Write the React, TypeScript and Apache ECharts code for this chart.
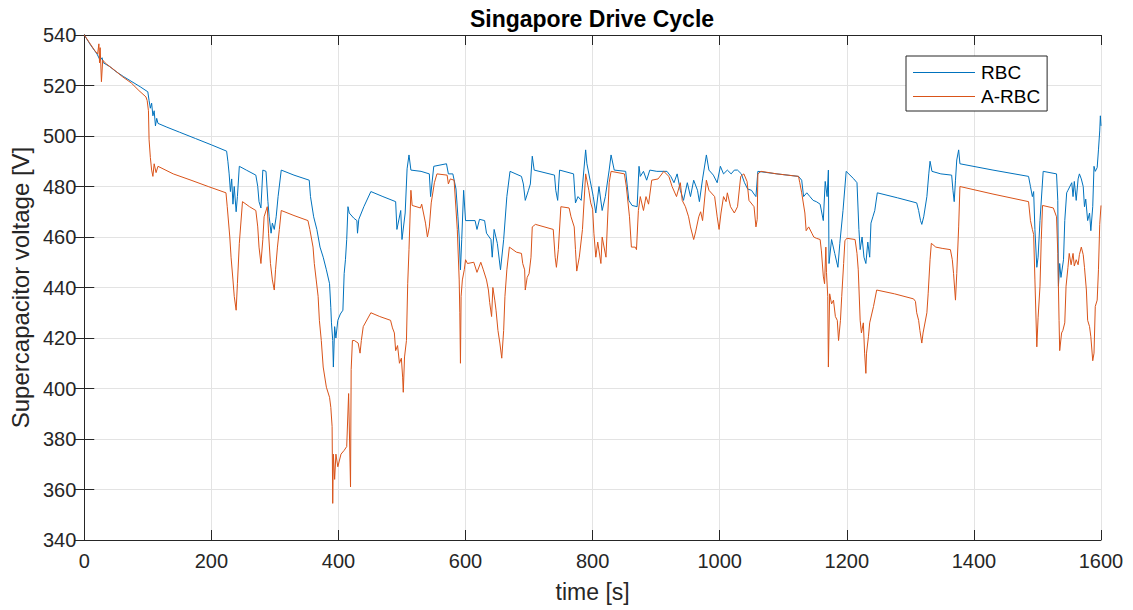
import React, { useEffect, useRef } from "react";
import * as echarts from "echarts";

const titleText = "Singapore Drive Cycle";
const xName = "time [s]";
const yName = "Supercapacitor voltage [V]";
const seriesNames = ["RBC", "A-RBC"];
const seriesColors = ["#0072BD", "#D95319"];
const xTicks = { min: 0, max: 1600, interval: 200 };
const yTicks = { min: 340, max: 540, interval: 20 };

// [time s, voltage V]
const rbc: [number, number][] = [
  [0, 540], [10, 536], [20, 532.5], [25, 530], [28, 531], [30, 529], [40, 527.5], [50, 525.5], [62, 523.5], [75, 521.5],
  [88, 519.5], [100, 517.5], [102, 514], [104, 511], [106, 513], [108, 508], [110, 510], [112, 504], [114, 507], [116, 505],
  [130, 503.5], [150, 501.5], [175, 499], [200, 496.5], [224, 494], [226, 490], [228, 485], [230, 478], [232, 483], [234, 473],
  [236, 480], [239, 470], [241, 476], [244, 488], [255, 486.5], [270, 484.5], [273, 480], [275, 474], [278, 471.5], [281, 486.5],
  [286, 486], [289, 474], [291, 468], [294, 461.5], [296, 465.5], [299, 463], [302, 468], [305, 476], [310, 486.5], [330, 484.5],
  [354, 482.5], [356, 476], [361, 468], [366, 463], [371, 456], [376, 452], [381, 447], [386, 441.5], [388, 432], [389, 426],
  [391, 419], [392, 408.5], [394, 424.5], [396, 420], [399, 427], [403, 429.5], [407, 431], [409, 445.5], [411, 451], [413, 459],
  [415, 472], [417, 469.5], [424, 467.5], [429, 466.5], [430, 461.5], [432, 467], [440, 472], [451, 478], [470, 476], [490, 474],
  [492, 463], [498, 470.5], [500, 459], [505, 469.5], [508, 487], [511, 492.5], [514, 486.5], [530, 486], [543, 485], [545, 476],
  [550, 488], [570, 489], [573, 485], [580, 485], [585, 479], [588, 468], [590, 460], [592, 447], [594, 459], [597, 478.5],
  [600, 466.5], [615, 466.5], [618, 463], [622, 467], [630, 466.5], [633, 461.5], [640, 459], [642, 452], [645, 463], [650, 457.5],
  [655, 447], [660, 459], [665, 476], [670, 486], [688, 484], [691, 481], [694, 474.5], [699, 478.5], [702, 481], [705, 492],
  [708, 486.5], [740, 484.5], [742, 478.5], [745, 474.5], [748, 486.5], [770, 485], [773, 473.5], [777, 476], [782, 474.5], [789, 494.5],
  [791, 489], [796, 482.5], [801, 476], [805, 469.5], [810, 480], [815, 470.5], [820, 476], [826, 486.5], [829, 492.5], [834, 486.5],
  [852, 486], [857, 474.5], [862, 472.5], [870, 472], [873, 488], [875, 484], [880, 486], [885, 482.5], [890, 486.5], [901, 486],
  [917, 486], [923, 484], [928, 481.5], [933, 485], [938, 478.5], [943, 474.5], [949, 481.5], [954, 476], [959, 482.5], [965, 478.5],
  [968, 474], [973, 483], [979, 492.5], [983, 486.5], [990, 484.5], [996, 481.5], [1001, 488], [1006, 485], [1012, 486.5], [1018, 485],
  [1023, 486.5], [1028, 486.5], [1034, 485], [1039, 481.5], [1044, 479], [1050, 478.5], [1054, 477], [1057, 476], [1060, 486], [1090, 485],
  [1124, 484], [1129, 482.5], [1132, 476], [1137, 477.5], [1142, 476], [1147, 474.5], [1152, 474], [1158, 473], [1163, 466.5], [1166, 482],
  [1169, 476], [1171, 486.5], [1172, 449.5], [1176, 459], [1181, 453.5], [1186, 448], [1189, 457.5], [1194, 470.5], [1199, 486], [1211, 483],
  [1216, 481.5], [1219, 463], [1221, 455], [1224, 460], [1227, 452], [1230, 449.5], [1233, 458], [1236, 452], [1238, 465.5], [1241, 468],
  [1244, 470.5], [1248, 477.5], [1280, 475.5], [1310, 473.5], [1313, 470.5], [1316, 466.5], [1318, 465], [1321, 468], [1326, 476], [1329, 485],
  [1331, 490], [1334, 486], [1348, 485], [1365, 484.5], [1367, 478.5], [1369, 474], [1371, 482.5], [1373, 490.5], [1376, 494.5], [1378, 489],
  [1430, 486.5], [1486, 484], [1489, 480], [1492, 476], [1494, 478], [1496, 463], [1499, 448], [1501, 452], [1504, 466.5], [1509, 486],
  [1530, 485], [1532, 474.5], [1533, 440.5], [1535, 449.5], [1537, 444], [1541, 451], [1543, 466.5], [1546, 477.5], [1548, 478.5], [1554, 481.5],
  [1556, 476], [1558, 482], [1561, 474.5], [1564, 483], [1566, 485], [1569, 483], [1572, 480], [1574, 472], [1576, 475], [1579, 466.5],
  [1582, 469.5], [1584, 462.5], [1587, 472], [1589, 488], [1591, 486], [1594, 487.5], [1596, 494.5], [1598, 502], [1599, 508], [1600, 504],
];

const arbc: [number, number][] = [
  [0, 540], [8, 537], [16, 534], [21, 532.5], [23, 536.5], [24, 529], [25, 535], [27, 521.5], [29, 530], [35, 528.5],
  [48, 526], [60, 523.5], [74, 521], [86, 518], [97, 515.5], [99, 514], [101, 510], [102, 498.5], [104, 491.5], [106, 486.5],
  [108, 484], [110, 489], [113, 485.5], [116, 488], [140, 485], [168, 482.5], [195, 480], [223, 477.5], [225, 472], [229, 460],
  [231, 452], [234, 443], [236, 436.5], [239, 431], [241, 441.5], [244, 457.5], [249, 474], [260, 472], [270, 470.5], [273, 464],
  [275, 456], [278, 449.5], [281, 459], [283, 468], [288, 472], [290, 461.5], [293, 449.5], [296, 443], [299, 439], [301, 447],
  [304, 456], [307, 463], [310, 470.5], [330, 468.5], [352, 466.5], [355, 463], [360, 456], [362, 449.5], [365, 443], [368, 436.5],
  [370, 427], [373, 419], [376, 408.5], [381, 400.5], [386, 396.5], [388, 392.5], [390, 385], [391, 354.5], [392, 374], [394, 364],
  [396, 374], [399, 369], [404, 374], [409, 375.5], [413, 377], [416, 398], [419, 361], [420, 407.5], [422, 419], [425, 419],
  [431, 418], [434, 414], [436, 419], [439, 424.5], [451, 430], [465, 428.5], [482, 427], [485, 424], [488, 422], [490, 415],
  [493, 417], [496, 410], [499, 412], [501, 404.5], [502, 398.5], [504, 412.5], [507, 419], [509, 441.5], [511, 455], [514, 478.5],
  [516, 472.5], [529, 471.5], [531, 473], [537, 465.5], [540, 460], [543, 464], [546, 473.5], [551, 481.5], [555, 485], [571, 484.5],
  [573, 481], [576, 483], [582, 482.5], [587, 463], [590, 443], [591, 430], [592, 410], [593, 436.5], [595, 443], [598, 447],
  [600, 451], [603, 449.5], [613, 450], [618, 446], [624, 450], [628, 447], [633, 443], [636, 439], [638, 434], [641, 428.5],
  [643, 440], [646, 435], [648, 431], [651, 423], [654, 418], [657, 412], [660, 423], [662, 436.5], [665, 447], [669, 456],
  [680, 454], [688, 453.5], [690, 449.5], [693, 447], [694, 439], [697, 444], [700, 445.5], [703, 452], [705, 464], [710, 465],
  [738, 463], [741, 452], [743, 448], [746, 455], [750, 472], [763, 471.5], [766, 468], [771, 464], [773, 455], [775, 446.5],
  [779, 452], [784, 463], [789, 485], [794, 478.5], [797, 473.5], [800, 471], [802, 461.5], [805, 452], [808, 458], [813, 449.5],
  [815, 460], [821, 452], [826, 481.5], [829, 486], [850, 485], [853, 480], [858, 468], [861, 456], [867, 456], [869, 455],
  [872, 470.5], [875, 476], [880, 470.5], [884, 476], [888, 473], [893, 482.5], [903, 483], [912, 486], [920, 484], [925, 480],
  [932, 476], [938, 481.5], [941, 474.5], [946, 472], [951, 468], [954, 464], [959, 459], [962, 462], [967, 468], [970, 470],
  [973, 466.5], [979, 482.5], [983, 478.5], [992, 476], [996, 468], [999, 463], [1002, 469.5], [1006, 476], [1010, 474], [1012, 477.5],
  [1017, 472], [1023, 469.5], [1028, 472], [1033, 484], [1038, 485], [1043, 482], [1046, 474.5], [1054, 472], [1057, 464], [1059, 467],
  [1060, 485], [1065, 486], [1090, 485], [1124, 484], [1126, 481.5], [1129, 477.5], [1134, 469.5], [1136, 462.5], [1140, 464], [1145, 461.5],
  [1148, 460], [1152, 459.5], [1158, 459], [1160, 454.5], [1163, 444.5], [1165, 441.5], [1167, 456], [1168, 446], [1170, 436.5], [1171, 408.5],
  [1173, 437.5], [1176, 433.5], [1179, 435], [1182, 428.5], [1185, 427], [1187, 419], [1190, 427], [1192, 436.5], [1195, 449.5], [1197, 458.5],
  [1200, 459.5], [1213, 459], [1216, 453.5], [1218, 447], [1221, 427], [1223, 422], [1226, 426], [1228, 414], [1230, 406], [1231, 414],
  [1234, 420.5], [1236, 426], [1242, 432.5], [1247, 439], [1275, 437.5], [1305, 435.5], [1308, 434.5], [1310, 430], [1313, 427], [1315, 423],
  [1318, 418], [1320, 422], [1326, 430], [1328, 437.5], [1331, 451], [1333, 457.5], [1340, 456], [1350, 455.5], [1363, 455], [1366, 451],
  [1368, 445.5], [1371, 435], [1373, 445.5], [1376, 464], [1378, 480], [1430, 477], [1486, 474], [1489, 466.5], [1492, 463], [1494, 461],
  [1496, 443], [1499, 416.5], [1501, 428], [1504, 440.5], [1506, 459], [1508, 472.5], [1525, 471.5], [1530, 468], [1532, 453.5], [1534, 427],
  [1535, 415], [1538, 422], [1540, 423], [1543, 426], [1545, 440.5], [1548, 448], [1550, 453.5], [1553, 449], [1556, 453.5], [1558, 448.5],
  [1561, 451], [1564, 449], [1566, 453], [1569, 456], [1572, 453], [1574, 448], [1577, 439], [1579, 427], [1582, 424.5], [1584, 420.5],
  [1587, 411], [1589, 414], [1591, 432.5], [1594, 435], [1596, 447], [1598, 465], [1600, 472.5],
];

const FONT = "'Liberation Sans', Arial, Helvetica, sans-serif";
const AXIS_COLOR = "#262626";

export default function App() {
  const ref = useRef<HTMLDivElement>(null);
  useEffect(() => {
    if (!ref.current) return;
    const chart = echarts.init(ref.current, undefined, { renderer: "svg" });
    const gridLeft = 83;
    const gridRight = 32;
    const plotCenter = gridLeft + (1133 - gridLeft - gridRight) / 2;
    const baseAxis = {
      axisLine: { show: true, lineStyle: { color: AXIS_COLOR, width: 1 } },
      axisTick: { show: true, inside: true, length: 10, lineStyle: { color: AXIS_COLOR, width: 1 } },
    };
    chart.setOption({
      animation: false,
      backgroundColor: "#ffffff",
      textStyle: { fontFamily: FONT },
      grid: { left: gridLeft, right: gridRight, top: 35, bottom: 70, containLabel: false },
      graphic: [
        {
          type: "text",
          x: plotCenter,
          y: 19,
          style: {
            text: titleText,
            textAlign: "center",
            textVerticalAlign: "middle",
            font: `bold 23px ${FONT}`,
            fill: "#000000",
          },
        },
      ],
      legend: {
        show: true,
        orient: "vertical",
        left: 906,
        top: 56,
        padding: [7, 7, 5, 7],
        itemGap: 5,
        itemWidth: 62,
        itemHeight: 1,
        icon: "rect",
        backgroundColor: "#ffffff",
        borderColor: AXIS_COLOR,
        borderWidth: 1,
        textStyle: { fontFamily: FONT, fontSize: 19, color: "#000000", padding: [0, 0, 0, 1] },
        data: seriesNames,
      },
      xAxis: [
        {
          type: "value",
          min: xTicks.min,
          max: xTicks.max,
          interval: xTicks.interval,
          name: xName,
          nameLocation: "middle",
          nameGap: 40,
          nameTextStyle: { fontFamily: FONT, fontSize: 23, color: AXIS_COLOR },
          ...baseAxis,
          axisLabel: {
            show: true,
            margin: 11,
            fontFamily: FONT,
            fontSize: 20,
            color: AXIS_COLOR,
            formatter: (v: number) => String(v),
          },
          splitLine: { show: true, lineStyle: { color: "#e3e3e3", width: 1 } },
        },
        {
          type: "value",
          position: "top",
          min: xTicks.min,
          max: xTicks.max,
          interval: xTicks.interval,
          ...baseAxis,
          axisLabel: { show: false },
          splitLine: { show: false },
        },
      ],
      yAxis: [
        {
          type: "value",
          min: yTicks.min,
          max: yTicks.max,
          interval: yTicks.interval,
          name: yName,
          nameLocation: "middle",
          nameGap: 50,
          nameTextStyle: { fontFamily: FONT, fontSize: 24, color: AXIS_COLOR },
          ...baseAxis,
          axisLabel: {
            show: true,
            margin: 8,
            fontFamily: FONT,
            fontSize: 20,
            color: AXIS_COLOR,
            formatter: (v: number) => String(v),
          },
          splitLine: { show: true, lineStyle: { color: "#e3e3e3", width: 1 } },
        },
        {
          type: "value",
          position: "right",
          min: yTicks.min,
          max: yTicks.max,
          interval: yTicks.interval,
          ...baseAxis,
          axisLabel: { show: false },
          splitLine: { show: false },
        },
      ],
      series: [
        {
          name: seriesNames[0],
          type: "line",
          data: rbc,
          showSymbol: false,
          symbol: "none",
          color: seriesColors[0],
          lineStyle: { color: seriesColors[0], width: 1 },
          z: 2,
        },
        {
          name: seriesNames[1],
          type: "line",
          data: arbc,
          showSymbol: false,
          symbol: "none",
          color: seriesColors[1],
          lineStyle: { color: seriesColors[1], width: 1 },
          z: 3,
        },
      ],
    });
    return () => chart.dispose();
  }, []);
  return (
    <div
      ref={ref}
      style={{ position: "fixed", left: 0, top: 0, width: 1133, height: 610, background: "#fff" }}
    />
  );
}
